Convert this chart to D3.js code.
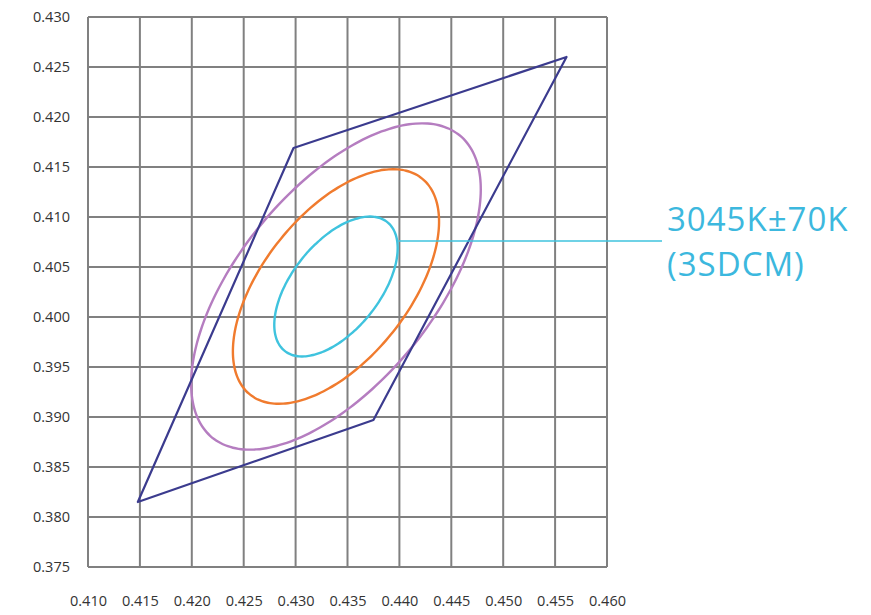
<!DOCTYPE html>
<html>
<head>
<meta charset="utf-8">
<script src="https://cdn.jsdelivr.net/npm/d3@7/dist/d3.min.js"></script>
<style>
  html, body { margin: 0; padding: 0; background: #fff; }
  svg { display: block; }
</style>
</head>
<body>
<svg id="chart" width="871" height="615"></svg>
<script>
// ---- data ----
const xTicks = [0.410, 0.415, 0.420, 0.425, 0.430, 0.435, 0.440, 0.445, 0.450, 0.455, 0.460];
const yTicks = [0.375, 0.380, 0.385, 0.390, 0.395, 0.400, 0.405, 0.410, 0.415, 0.420, 0.425, 0.430];
const xTickLabels = xTicks.map(d => d.toFixed(3));
const yTickLabels = yTicks.map(d => d.toFixed(3));

// quadrilateral (x, y) vertices
const quadX = [0.4148, 0.4298, 0.4561, 0.4375];
const quadY = [0.3815, 0.4169, 0.4260, 0.3897];

// ellipses: center, semi-major, semi-minor (chromaticity units), tilt (deg)
const ellipseNames  = ["7-step", "5-step", "3-step"];
const ellipseCx     = [0.43389, 0.43389, 0.43389];
const ellipseCy     = [0.40305, 0.40305, 0.40305];
const ellipseA      = [0.01925, 0.01362, 0.00812];
const ellipseB      = [0.00950, 0.00712, 0.00428];
const ellipseTilt   = [52.4, 53.4, 53.3];
const ellipseColors = ["#b57dc0", "#f07b2e", "#3fc3de"];

// annotation
const labelLines = ["3045K\u00B170K", "(3SDCM)"];
const leaderX = [0.4399, 0.4653];
const leaderY = [0.4076, 0.4076];

// ---- chart ----
const svg = d3.select("#chart");
const x = d3.scaleLinear().domain([0.410, 0.460]).range([88, 607]);
const y = d3.scaleLinear().domain([0.375, 0.430]).range([567, 17]);

const gridColor = "#808080";
const g = svg.append("g");

// vertical grid
g.selectAll("line.vx").data(xTicks).join("line")
  .attr("x1", d => x(d)).attr("x2", d => x(d))
  .attr("y1", y(0.375)).attr("y2", y(0.430))
  .attr("stroke", gridColor).attr("stroke-width", 2);
// horizontal grid
g.selectAll("line.hy").data(yTicks).join("line")
  .attr("y1", d => y(d)).attr("y2", d => y(d))
  .attr("x1", x(0.410)).attr("x2", x(0.460))
  .attr("stroke", gridColor).attr("stroke-width", 2);

// axes (labels only)
const xAxis = d3.axisBottom(x).tickValues(xTicks).tickFormat((d, i) => xTickLabels[i]).tickSize(0).tickPadding(0);
const xg = svg.append("g").call(xAxis);
xg.select(".domain").remove();
xg.selectAll("text")
  .attr("y", 606).attr("dy", 0)
  .style("font-family", "'Open Sans', sans-serif").style("font-size", "14.5px").attr("fill", "#333");

const yAxis = d3.axisLeft(y).tickValues(yTicks).tickFormat((d, i) => yTickLabels[i]).tickSize(0).tickPadding(0);
const yg = svg.append("g").call(yAxis);
yg.select(".domain").remove();
yg.selectAll("text")
  .attr("x", 70).attr("dy", "0.34em")
  .style("font-family", "'Open Sans', sans-serif").style("font-size", "14.5px").attr("fill", "#333");

// ellipses
ellipseNames.forEach((name, i) => {
  const th = ellipseTilt[i] * Math.PI / 180;
  const pts = d3.range(0, 360, 3).map(deg => {
    const t = deg * Math.PI / 180;
    const dx = ellipseA[i] * Math.cos(t), dy = ellipseB[i] * Math.sin(t);
    return [ellipseCx[i] + dx * Math.cos(th) - dy * Math.sin(th),
            ellipseCy[i] + dx * Math.sin(th) + dy * Math.cos(th)];
  });
  svg.append("path")
    .attr("d", d3.line().x(p => x(p[0])).y(p => y(p[1])).curve(d3.curveCardinalClosed)(pts))
    .attr("fill", "none").attr("stroke", ellipseColors[i]).attr("stroke-width", 2.4);
});

// quadrilateral
const quadPts = quadX.map((v, i) => [v, quadY[i]]);
svg.append("path")
  .attr("d", d3.line().x(p => x(p[0])).y(p => y(p[1])).curve(d3.curveLinearClosed)(quadPts))
  .attr("fill", "none").attr("stroke", "#3b3b8e").attr("stroke-width", 2.2)
  .attr("stroke-linejoin", "round");

// leader line
svg.append("line")
  .attr("x1", x(leaderX[0])).attr("x2", x(leaderX[1]))
  .attr("y1", y(leaderY[0])).attr("y2", y(leaderY[1]))
  .attr("stroke", "#3fc3de").attr("stroke-width", 1.6);

// label
svg.selectAll("text.lbl").data(labelLines).join("text")
  .attr("class", "lbl")
  .attr("x", 667).attr("y", (d, i) => 231 + i * 45)
  .style("font-family", "'Open Sans', sans-serif").style("font-size", "33px")
  .style("letter-spacing", "1px")
  .attr("fill", "#3cb8de")
  .text(d => d);
</script>
</body>
</html>
